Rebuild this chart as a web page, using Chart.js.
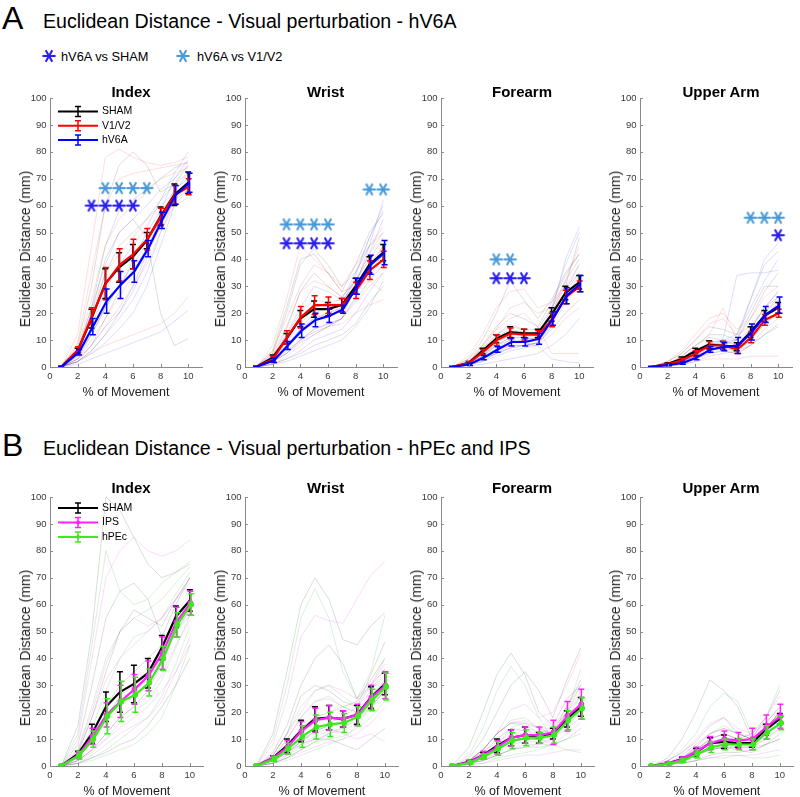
<!DOCTYPE html>
<html>
<head>
<meta charset="utf-8">
<title>Euclidean Distance - Visual perturbation</title>
<script src="https://cdn.jsdelivr.net/npm/chart.js@4.4.1/dist/chart.umd.min.js"></script>
<style>
  html, body { margin: 0; padding: 0; background: #fff; }
  #fig { position: relative; width: 800px; height: 797px; overflow: hidden; font-family: "Liberation Sans", Arial, sans-serif; }
  #fig canvas { position: absolute; }
  .lbl { position: absolute; white-space: nowrap; color: #000; }
</style>
</head>
<body>
<div id="fig"></div>
<script>
// bins of % of movement
const xs = [0.8, 2, 3, 4, 5, 6, 7, 8, 9, 10];
const groupsA = ['SHAM', 'V1/V2', 'hV6A'];
const groupsB = ['SHAM', 'IPS', 'hPEc'];

// ---------- A : hV6A (means / sem for SHAM, V1/V2, hV6A) ----------
const aIndexMean = [
  [0, 6, 18, 31, 37, 41, 47, 56, 64, 68.5],
  [0, 6.5, 19, 31, 38, 42, 47.5, 56, 64, 67],
  [0, 5.5, 15, 24.5, 30.5, 35.5, 44, 54.5, 64, 68.5]
];
const aIndexErr = [
  [0.3, 1, 3.5, 5.5, 5.5, 4.5, 3, 3.5, 4, 4],
  [0.3, 1, 3, 6, 6, 5.5, 4, 3, 3.5, 3],
  [0.3, 1, 3, 4.5, 5, 4, 3, 3, 3.5, 3.5]
];
const aIndexTraces = [
  [[0, 8, 30, 60, 75, 80, 75, 65, 68, 72], [0, 3, 12, 22, 30, 36, 44, 55, 66, 70], [0, 2, 6, 12, 20, 30, 42, 55, 62, 66], [0, 5, 18, 35, 45, 50, 55, 62, 68, 75], [0, 4, 20, 40, 50, 55, 48, 20, 8, 10.5], [0, 6, 22, 45, 58, 62, 66, 70, 74, 76], [0, 2, 8, 18, 28, 40, 50, 58, 64, 68]],
  [[0, 12, 45, 78, 81, 78, 76, 75, 76, 78], [0, 6, 20, 35, 42, 48, 55, 60, 65, 68], [0, 3, 10, 18, 26, 34, 42, 52, 62, 68], [0, 2, 5, 8, 10, 12, 14, 16, 20, 26], [0, 7, 25, 45, 55, 60, 65, 70, 72, 74], [0, 9, 35, 60, 70, 72, 73, 74, 75, 76], [0, 3, 8, 15, 22, 30, 38, 50, 60, 63]],
  [[0, 2, 6, 12, 18, 25, 35, 50, 62, 70], [0, 4, 12, 22, 30, 38, 46, 55, 65, 72], [0, 1, 3, 5, 7, 9, 11, 13, 17, 21], [0, 6, 22, 38, 50, 55, 60, 66, 70, 77], [0, 3, 8, 15, 20, 28, 40, 58, 70, 75], [0, 5, 15, 28, 38, 45, 52, 62, 72, 80], [0, 2, 5, 9, 14, 20, 30, 45, 60, 66]]
];
const aIndexSigShamX = [3, 4, 5, 6];
const aIndexSigShamY = [60, 60, 60, 60];
const aIndexSigV1X = [4, 5, 6, 7];
const aIndexSigV1Y = [66.5, 66.5, 66.5, 66.5];

const aWristMean = [
  [0, 3.5, 10.5, 18, 21.5, 21.5, 23, 30, 38, 42.5],
  [0, 3, 11, 18.5, 23, 23, 23, 28.5, 36, 40],
  [0, 2.5, 8, 13.5, 17.5, 19, 21.5, 30, 38, 42.5]
];
const aWristErr = [
  [0.3, 1, 2, 3, 3, 2.5, 2.5, 3, 3, 3],
  [0.3, 1, 2.5, 4, 3.5, 3, 2.5, 3, 3.5, 3],
  [0.3, 0.8, 1.5, 2.5, 2.5, 2.5, 1.5, 3, 3.5, 4.5]
];
const aWristTraces = [
  [[0, 5, 20, 38, 44, 38, 30, 35, 45, 50], [0, 3, 10, 18, 22, 24, 25, 30, 38, 45], [0, 2, 6, 10, 13, 15, 18, 25, 32, 38], [0, 4, 14, 28, 35, 30, 26, 32, 40, 48], [0, 1, 3, 5, 8, 10, 12, 16, 24, 30], [0, 6, 22, 40, 42, 35, 28, 38, 50, 57], [0, 2, 7, 14, 18, 20, 22, 28, 35, 42]],
  [[0, 8, 25, 45, 40, 35, 30, 38, 45, 52], [0, 4, 12, 20, 25, 24, 22, 28, 34, 40], [0, 2, 5, 10, 14, 16, 18, 24, 30, 35], [0, 6, 18, 30, 38, 35, 28, 30, 32, 28], [0, 1, 4, 8, 12, 15, 16, 20, 23, 25], [0, 5, 15, 28, 32, 30, 26, 32, 42, 50], [0, 3, 8, 14, 18, 20, 22, 28, 36, 44]],
  [[0, 2, 5, 9, 12, 15, 18, 30, 45, 62], [0, 3, 8, 14, 20, 22, 24, 32, 42, 55], [0, 1, 3, 6, 10, 12, 14, 20, 28, 35], [0, 4, 12, 22, 30, 28, 25, 35, 48, 58], [0, 1, 2, 4, 6, 8, 10, 15, 22, 32], [0, 3, 9, 16, 22, 24, 23, 34, 48, 60], [0, 2, 5, 10, 14, 16, 18, 26, 36, 45]]
];
const aWristSigShamX = [3, 4, 5, 6];
const aWristSigShamY = [46, 46, 46, 46];
const aWristSigV1X = [3, 4, 5, 6, 9, 10];
const aWristSigV1Y = [53, 53, 53, 53, 66, 66];

const aForearmMean = [
  [0, 1.5, 6, 10.5, 13, 12.5, 12.5, 19.5, 27.5, 31.5],
  [0, 1.5, 5.5, 10, 12.5, 12, 12, 17.5, 26, 30],
  [0, 1, 3.5, 6.5, 9.3, 9.3, 10.5, 18, 26.5, 31]
];
const aForearmErr = [
  [0.2, 0.5, 1, 1.5, 2, 1.5, 1.5, 2.5, 2.5, 2.5],
  [0.2, 0.5, 1, 2, 2, 2, 1.5, 2.5, 2.5, 2],
  [0.2, 0.4, 0.8, 1, 1.5, 1.5, 2, 2.5, 3, 3]
];
const aForearmTraces = [
  [[0, 3, 10, 20, 32, 25, 18, 25, 35, 42], [0, 2, 7, 12, 15, 14, 14, 22, 32, 40], [0, 1, 4, 8, 10, 10, 11, 18, 28, 35], [0, 1, 3, 5, 7, 8, 9, 14, 20, 25], [0, 2, 6, 11, 14, 13, 12, 20, 30, 48], [0, 2, 8, 15, 20, 18, 15, 24, 34, 42], [0, 1, 4, 9, 12, 12, 12, 18, 26, 30]],
  [[0, 4, 12, 22, 28, 29, 22, 24, 30, 35], [0, 2, 6, 12, 16, 14, 12, 18, 26, 30], [0, 1, 3, 6, 8, 8, 8, 12, 18, 22], [0, 3, 8, 14, 18, 20, 15, 5, 5, 5], [0, 1, 5, 9, 12, 12, 13, 20, 32, 45], [0, 2, 7, 14, 22, 24, 20, 22, 30, 38], [0, 1, 4, 8, 11, 11, 10, 15, 24, 32]],
  [[0, 1, 3, 5, 7, 8, 9, 20, 40, 52], [0, 1, 2, 4, 6, 7, 8, 15, 28, 38], [0, 2, 5, 8, 11, 11, 12, 18, 26, 32], [0, 0.5, 1, 2, 3, 4, 5, 8, 12, 18], [0, 1, 4, 7, 10, 9, 8, 3, 2, 1.5], [0, 1, 3, 6, 9, 10, 11, 22, 38, 50], [0, 1, 2, 5, 8, 8, 9, 16, 26, 34]]
];
const aForearmSigShamX = [4, 5, 6];
const aForearmSigShamY = [33, 33, 33];
const aForearmSigV1X = [4, 5];
const aForearmSigV1Y = [40, 40];

const aUpperMean = [
  [0, 1.2, 3, 6, 8.3, 8, 7.5, 13, 19, 22],
  [0, 1, 2.5, 5, 8, 8, 6.5, 11, 17.5, 20],
  [0, 0.8, 1.5, 3.5, 6.5, 7.5, 8, 13, 19.5, 23]
];
const aUpperErr = [
  [0.2, 0.4, 0.7, 1, 1.5, 1.5, 1.5, 2, 2, 2],
  [0.2, 0.4, 0.7, 1, 1.5, 1.5, 1.5, 2, 2, 1.5],
  [0.2, 0.3, 0.5, 0.8, 1, 1.5, 3, 3, 3, 3]
];
const aUpperTraces = [
  [[0, 2, 5, 10, 15, 14, 12, 25, 38, 43], [0, 1, 3, 6, 9, 8, 8, 14, 22, 28], [0, 1, 2, 4, 6, 7, 6, 10, 16, 20], [0, 0.5, 1, 3, 5, 6, 5, 8, 12, 15], [0, 1, 4, 8, 11, 10, 10, 20, 30, 30], [0, 1, 4, 8, 12, 12, 10, 18, 28, 35], [0, 1, 2, 5, 8, 8, 7, 12, 18, 24]],
  [[0, 2, 6, 12, 18, 20, 14, 18, 26, 30], [0, 1, 3, 6, 9, 10, 8, 12, 18, 22], [0, 1, 2, 3, 5, 6, 5, 8, 14, 18], [0, 0.5, 1, 2, 3, 3, 3, 4, 4, 4], [0, 1, 3, 7, 12, 22, 10, 12, 20, 25], [0, 2, 5, 10, 16, 18, 12, 15, 22, 28], [0, 1, 2, 4, 6, 7, 6, 10, 16, 20]],
  [[0, 1, 2, 4, 7, 10, 34, 35, 35, 36], [0, 0.5, 1, 3, 6, 8, 10, 25, 40, 46], [0, 1, 2, 4, 8, 9, 10, 14, 22, 26], [0, 0.5, 1, 2, 4, 5, 6, 8, 12, 16], [0, 1, 2, 5, 9, 10, 8, 12, 18, 20], [0, 1, 2, 5, 8, 10, 12, 22, 32, 40], [0, 1, 2, 4, 6, 8, 8, 12, 20, 26]]
];
const aUpperSigShamX = [10];
const aUpperSigShamY = [49];
const aUpperSigV1X = [8, 9, 10];
const aUpperSigV1Y = [55.5, 55.5, 55.5];

// ---------- B : hPEc and IPS (means / sem for SHAM, IPS, hPEc) ----------
const bIndexMean = [
  [0, 4.5, 12, 22, 27.5, 30.5, 34.5, 44, 55.5, 61.5],
  [0, 4, 11, 19, 24, 28.5, 33.5, 42, 53.5, 60.5],
  [0, 4, 10, 18.5, 24, 26.5, 31, 40, 52.5, 60]
];
const bIndexErr = [
  [0.3, 1, 3.5, 5.5, 7.5, 7, 5.5, 4.5, 4, 4],
  [0.3, 1, 3, 4.5, 6, 5.5, 5.5, 6, 5.5, 4.5],
  [0.3, 1.5, 3, 6.5, 7.5, 6.5, 5, 4.5, 4.5, 4]
];
const bIndexTraces = [
  [[0, 15, 50, 100, 95, 85, 75, 70, 72, 75], [0, 8, 30, 55, 65, 68, 62, 48, 60, 70], [0, 4, 12, 22, 30, 35, 40, 45, 55, 62], [0, 2, 6, 12, 18, 22, 28, 38, 50, 58], [0, 1, 3, 5, 8, 10, 15, 22, 30, 40], [0, 5, 18, 35, 50, 58, 55, 52, 62, 70], [0, 3, 9, 18, 26, 30, 34, 40, 50, 56]],
  [[0, 10, 40, 70, 80, 85, 80, 78, 80, 84], [0, 5, 18, 32, 40, 45, 50, 55, 62, 70], [0, 3, 10, 18, 24, 28, 32, 40, 50, 58], [0, 1, 4, 8, 12, 15, 18, 24, 35, 48], [0, 2, 6, 10, 14, 18, 22, 28, 35, 45], [0, 6, 20, 38, 50, 55, 52, 55, 62, 68], [0, 2, 6, 12, 18, 22, 26, 34, 45, 54]],
  [[0, 12, 45, 80, 65, 60, 62, 68, 72, 76], [0, 6, 22, 40, 50, 55, 58, 62, 68, 74], [0, 3, 9, 16, 22, 26, 30, 40, 52, 60], [0, 1, 3, 6, 10, 14, 18, 26, 38, 52], [0, 1, 2, 4, 6, 8, 12, 18, 30, 45], [0, 4, 14, 28, 40, 48, 50, 55, 64, 72], [0, 2, 5, 10, 16, 20, 24, 32, 44, 56]]
];

const bWristMean = [
  [0, 3, 7.5, 13, 17.5, 18, 17.5, 19, 25.5, 30.5],
  [0, 3, 7, 13, 17, 18, 17.5, 19, 25.5, 30],
  [0, 2.5, 6.5, 11, 14.5, 15.5, 16, 18.5, 24.5, 29.5]
];
const bWristErr = [
  [0.2, 0.8, 2.5, 4, 4.5, 4.5, 3, 3.5, 4, 4],
  [0.2, 0.8, 2.5, 3.5, 4.5, 4.5, 3, 4, 4.5, 5],
  [0.2, 0.8, 2, 4, 4.5, 4.5, 3.5, 3.5, 4, 5]
];
const bWristTraces = [
  [[0, 12, 35, 60, 70, 62, 47, 45, 52, 57], [0, 5, 15, 30, 40, 45, 38, 25, 32, 40], [0, 3, 8, 14, 18, 20, 22, 24, 30, 36], [0, 1, 3, 6, 9, 12, 14, 18, 22, 28], [0, 2, 5, 8, 10, 10, 8, 6, 10, 14], [0, 4, 12, 26, 30, 28, 24, 22, 34, 46], [0, 2, 5, 9, 13, 15, 16, 18, 24, 30]],
  [[0, 8, 25, 48, 56, 54, 53, 62, 71, 76], [0, 4, 12, 20, 28, 30, 28, 25, 30, 38], [0, 2, 6, 10, 14, 16, 18, 22, 28, 34], [0, 1, 3, 5, 7, 9, 10, 12, 16, 22], [0, 2, 5, 9, 12, 14, 12, 10, 12, 9], [0, 3, 10, 18, 24, 26, 22, 20, 28, 36], [0, 1, 4, 7, 10, 12, 13, 16, 22, 28]],
  [[0, 10, 30, 55, 66, 55, 35, 25, 35, 56], [0, 3, 10, 18, 24, 25, 22, 20, 26, 32], [0, 2, 5, 9, 13, 15, 17, 20, 25, 30], [0, 1, 2, 4, 6, 8, 10, 15, 22, 28], [0, 1, 3, 6, 9, 10, 11, 14, 18, 24], [0, 4, 12, 22, 28, 30, 26, 22, 30, 40], [0, 2, 4, 8, 11, 13, 14, 17, 22, 26]]
];

const bForearmMean = [
  [0, 1.5, 4, 7.5, 10.5, 11.5, 10.5, 12, 17.5, 22],
  [0, 1.5, 4, 7, 10.5, 11.5, 11.5, 12.5, 18.5, 23],
  [0, 1.2, 3.5, 6.5, 9.5, 10.5, 10.5, 11.5, 17, 21.5]
];
const bForearmErr = [
  [0.2, 0.5, 1, 2.5, 3, 3, 2, 2, 3, 3.5],
  [0.2, 0.5, 1.5, 2.5, 3, 3, 3, 4.5, 5.5, 5.5],
  [0.2, 0.4, 1, 2.5, 3, 3, 2, 3, 3.5, 4]
];
const bForearmTraces = [
  [[0, 7, 20, 34, 42, 34, 20, 15, 25, 30], [0, 3, 10, 20, 30, 35, 28, 18, 32, 44], [0, 2, 5, 10, 14, 13, 12, 14, 20, 26], [0, 1, 3, 6, 9, 10, 10, 12, 18, 24], [0, 1, 2, 4, 6, 7, 7, 8, 10, 14], [0, 2, 6, 12, 16, 16, 14, 12, 22, 32], [0, 1, 3, 6, 9, 10, 10, 11, 16, 20]],
  [[0, 2, 6, 12, 21, 23, 18, 20, 30, 42], [0, 1, 4, 8, 14, 16, 12, 12, 20, 28], [0, 2, 5, 9, 12, 12, 10, 8, 12, 16], [0, 1, 2, 4, 6, 7, 8, 10, 14, 18], [0, 0.5, 1, 2, 3, 4, 4, 5, 6, 6], [0, 2, 6, 12, 16, 17, 14, 14, 22, 30], [0, 1, 3, 6, 9, 10, 10, 12, 18, 22]],
  [[0, 4, 14, 28, 37, 30, 18, 10, 20, 36], [0, 2, 6, 12, 16, 15, 12, 10, 16, 22], [0, 1, 3, 6, 9, 10, 10, 12, 18, 26], [0, 0.5, 1, 3, 4, 5, 6, 8, 10, 12], [0, 1, 2, 4, 6, 8, 8, 8, 6, 5], [0, 2, 6, 12, 17, 18, 14, 12, 20, 30], [0, 1, 2, 5, 8, 9, 9, 10, 15, 20]]
];

const bUpperMean = [
  [0, 1, 2.5, 5, 8.5, 9, 8.5, 8.5, 13.5, 17.5],
  [0, 1, 2.5, 5.5, 8.5, 10, 9.5, 10, 14.5, 18.5],
  [0, 0.8, 2, 4.5, 7, 8, 8, 8, 12.5, 16]
];
const bUpperErr = [
  [0.2, 0.3, 0.8, 1.5, 2, 2.5, 1.5, 1.5, 2, 2],
  [0.2, 0.3, 0.8, 1.5, 2.5, 3, 3, 4, 4.5, 4.5],
  [0.2, 0.3, 0.7, 1.5, 2, 2, 2, 2, 2.5, 2.5]
];
const bUpperTraces = [
  [[0, 3, 10, 20, 32, 28, 22, 10, 18, 28], [0, 2, 5, 9, 15, 18, 12, 10, 14, 20], [0, 1, 3, 6, 10, 12, 10, 12, 16, 22], [0, 0.5, 1, 2, 4, 5, 5, 6, 8, 10], [0, 1, 2, 4, 6, 7, 6, 5, 8, 12], [0, 1, 4, 8, 12, 14, 12, 10, 14, 20], [0, 1, 2, 4, 7, 8, 8, 8, 12, 15]],
  [[0, 2, 5, 10, 16, 18, 14, 12, 18, 26], [0, 1, 3, 6, 10, 12, 10, 10, 14, 20], [0, 1, 2, 4, 7, 8, 8, 9, 12, 16], [0, 0.5, 1, 2, 3, 4, 4, 4, 5, 6], [0, 1, 3, 5, 8, 9, 9, 10, 13, 18], [0, 1, 3, 7, 12, 14, 12, 11, 16, 22], [0, 1, 2, 4, 6, 7, 7, 7, 10, 14]],
  [[0, 2, 6, 12, 22, 27, 24, 12, 18, 30], [0, 1, 3, 6, 10, 12, 10, 8, 12, 18], [0, 1, 2, 4, 6, 7, 7, 7, 8, 10], [0, 0.5, 1, 2, 3, 3, 4, 3, 3, 4], [0, 1, 3, 6, 9, 10, 9, 8, 12, 16], [0, 1, 3, 7, 12, 15, 12, 10, 14, 20], [0, 1, 2, 4, 6, 7, 7, 7, 10, 14]]
];

// ---------- look ----------
const FONT = '"Liberation Sans", Arial, sans-serif';
const axisColor = '#8a8a8a';
const tickColor = '#3a3a3a';
const colorsA = ['#000000', '#ff0000', '#0000ff'];
const faintA = ['rgba(0,0,0,0.17)', 'rgba(255,0,0,0.17)', 'rgba(0,0,255,0.17)'];
const colorsB = ['#000000', '#ff22ff', '#3de81e'];
const faintB = ['rgba(0,0,0,0.18)', 'rgba(225,0,225,0.18)', 'rgba(0,170,0,0.2)'];
const starDark = '#2a1ef0';
const starLight = '#4a9ad8';
const xOffsets = [0, 0.04, 0.1];

const colsLeft = [50, 244.7, 441, 640];
const rowsTop = [98, 497];
const plotW = 158, plotH = 269;
const padTop = 12, axisW = 50, axisH = 40, padRight = 2;

const fig = document.getElementById('fig');

function makeStar(color) {
  const c = document.createElement('canvas');
  c.width = 16; c.height = 16;
  const g = c.getContext('2d');
  g.strokeStyle = color;
  g.lineWidth = 2.1;
  g.translate(8, 8);
  [0, 60, 120].forEach(a => {
    const r = a * Math.PI / 180, dx = Math.cos(r) * 6.6, dy = Math.sin(r) * 6.6;
    g.beginPath(); g.moveTo(-dx, -dy); g.lineTo(dx, dy); g.stroke();
  });
  return c;
}
const starDarkImg = makeStar(starDark);
const starLightImg = makeStar(starLight);

// error bars drawn right after each mean line
const errorBars = {
  id: 'errorBars',
  afterDatasetDraw(chart, args) {
    const ds = chart.data.datasets[args.index];
    if (!ds.errors) return;
    const {ctx, scales: {x, y}, chartArea: a} = chart;
    ctx.save();
    ctx.beginPath(); ctx.rect(a.left, a.top, a.width, a.height); ctx.clip();
    ctx.strokeStyle = ds.borderColor;
    ctx.lineWidth = 1.5;
    ds.data.forEach((p, i) => {
      const e = ds.errors[i];
      if (!e) return;
      const px = x.getPixelForValue(p.x);
      const y1 = y.getPixelForValue(p.y - e), y2 = y.getPixelForValue(p.y + e);
      ctx.beginPath();
      ctx.moveTo(px, y1); ctx.lineTo(px, y2);
      ctx.moveTo(px - 3, y1); ctx.lineTo(px + 3, y1);
      ctx.moveTo(px - 3, y2); ctx.lineTo(px + 3, y2);
      ctx.stroke();
    });
    ctx.restore();
  }
};

// MATLAB-ish inward tick marks
const inTicks = {
  id: 'inTicks',
  afterDraw(chart) {
    const {ctx, chartArea: a, scales: {x, y}} = chart;
    ctx.save();
    ctx.strokeStyle = axisColor;
    ctx.lineWidth = 1;
    ctx.beginPath();
    x.ticks.forEach(t => {
      const px = Math.round(x.getPixelForValue(t.value)) + 0.5;
      ctx.moveTo(px, a.bottom); ctx.lineTo(px, a.bottom - 3);
    });
    y.ticks.forEach(t => {
      const py = Math.round(y.getPixelForValue(t.value)) + 0.5;
      ctx.moveTo(a.left, py); ctx.lineTo(a.left + 3, py);
    });
    ctx.stroke();
    ctx.restore();
  }
};

// legend with error-bar icons
const errLegend = {
  id: 'errLegend',
  afterDraw(chart, args, opts) {
    if (!opts.items) return;
    const {ctx, chartArea: a} = chart;
    ctx.save();
    ctx.font = '10.5px ' + FONT;
    ctx.textBaseline = 'middle';
    opts.items.forEach((it, i) => {
      const y = a.top + opts.top + i * opts.gap;
      const x0 = a.left + 8, x1 = a.left + 48, xm = a.left + 28;
      ctx.strokeStyle = it.color;
      ctx.lineWidth = 2;
      ctx.beginPath(); ctx.moveTo(x0, y); ctx.lineTo(x1, y); ctx.stroke();
      ctx.lineWidth = 1.5;
      ctx.beginPath();
      ctx.moveTo(xm, y - 5); ctx.lineTo(xm, y + 5);
      ctx.moveTo(xm - 3, y - 5); ctx.lineTo(xm + 3, y - 5);
      ctx.moveTo(xm - 3, y + 5); ctx.lineTo(xm + 3, y + 5);
      ctx.stroke();
      if (it.marker) {
        ctx.fillStyle = it.color;
        ctx.beginPath(); ctx.arc(xm, y, 2, 0, 2 * Math.PI); ctx.fill();
      }
      ctx.fillStyle = '#000';
      ctx.fillText(it.label, a.left + 52, y);
    });
    ctx.restore();
  }
};

Chart.register(errorBars, inTicks, errLegend);

function addText(txt, x, baseline, size, opts) {
  opts = opts || {};
  const d = document.createElement('div');
  d.className = 'lbl';
  d.textContent = txt;
  d.style.fontSize = size + 'px';
  d.style.lineHeight = size + 'px';
  d.style.top = (baseline - 0.8465 * size) + 'px';
  d.style.left = x + 'px';
  if (opts.bold) d.style.fontWeight = 'bold';
  if (opts.center) d.style.transform = 'translateX(-50%)';
  if (opts.rotate) {
    d.style.top = baseline + 'px';
    d.style.transform = 'translate(-50%, -50%) rotate(-90deg)';
  }
  fig.appendChild(d);
  return d;
}

function addStarIcon(img, cx, cy) {
  const c = document.createElement('canvas');
  c.width = 16; c.height = 16;
  c.getContext('2d').drawImage(img, 0, 0);
  c.style.left = (cx - 8) + 'px';
  c.style.top = (cy - 8) + 'px';
  fig.appendChild(c);
}

function makePanel(p, left, top, row) {
  const canvas = document.createElement('canvas');
  canvas.width = axisW + plotW + padRight;
  canvas.height = padTop + plotH + axisH;
  canvas.style.left = (left - axisW) + 'px';
  canvas.style.top = (top - padTop) + 'px';
  fig.appendChild(canvas);

  const datasets = [];
  p.traces.forEach((grp, g) => grp.forEach(tr => datasets.push({
    data: tr.map((v, i) => ({x: xs[i], y: v})),
    borderColor: row.faint[g], borderWidth: 0.8, pointRadius: 0, order: 10
  })));
  p.mean.forEach((m, g) => datasets.push({
    label: row.groups[g],
    data: m.map((v, i) => ({x: i === 0 ? xs[i] : xs[i] + xOffsets[g], y: v})),
    errors: p.err[g],
    borderColor: row.colors[g], backgroundColor: row.colors[g],
    borderWidth: 2.2, pointRadius: row.markers && g > 0 ? 1.8 : 0,
    order: 5 - g
  }));
  if (p.sig) {
    [[p.sig[0], starDarkImg], [p.sig[1], starLightImg]].forEach(([s, img]) => datasets.push({
      data: s[0].map((v, i) => ({x: v, y: s[1][i]})),
      showLine: false, pointStyle: img, pointRadius: 7, order: 0
    }));
  }

  new Chart(canvas, {
    type: 'line',
    data: {datasets},
    options: {
      responsive: false, animation: false, events: [],
      layout: {padding: {top: padTop, right: padRight, left: 0, bottom: 0}},
      plugins: {
        legend: {display: false}, tooltip: {enabled: false},
        errLegend: p.legend ? {
          items: row.groups.map((g, i) => ({label: g, color: row.colors[i], marker: row.markers && i > 0})),
          top: row.legendTop, gap: row.legendGap
        } : {}
      },
      scales: {
        x: {
          type: 'linear', min: 0, max: 11,
          grid: {display: false, drawTicks: false},
          border: {display: true, color: axisColor, width: 1},
          ticks: {stepSize: 2, includeBounds: false, padding: 4, maxRotation: 0, color: tickColor, font: {size: 9.5, family: FONT}},
          title: {display: true, text: '% of Movement', color: '#222', font: {size: 12.5, family: FONT}, padding: {top: 0, bottom: 6.5}},
          afterFit: s => { s.height = axisH; }
        },
        y: {
          type: 'linear', min: 0, max: 100,
          grid: {display: false, drawTicks: false},
          border: {display: true, color: axisColor, width: 1},
          ticks: {stepSize: 10, padding: 3.5, color: tickColor, font: {size: 9.5, family: FONT}},
          afterFit: s => { s.width = axisW; }
        }
      }
    }
  });

  addText(p.title, left + plotW / 2 + 2, row.titleBase, 15, {bold: true, center: true});
  addText('Euclidean Distance (mm)', left - 25, top + 151, 14, {rotate: true}).style.color = '#222';
}

const rowA = {
  groups: groupsA, colors: colorsA, faint: faintA, markers: false,
  legendTop: 13.5, legendGap: 14.3, titleBase: 96.7
};
const rowB = {
  groups: groupsB, colors: colorsB, faint: faintB, markers: true,
  legendTop: 11, legendGap: 14.5, titleBase: 492.5
};

const panelsA = [
  {title: 'Index', mean: aIndexMean, err: aIndexErr, traces: aIndexTraces, sig: [[aIndexSigShamX, aIndexSigShamY], [aIndexSigV1X, aIndexSigV1Y]], legend: true},
  {title: 'Wrist', mean: aWristMean, err: aWristErr, traces: aWristTraces, sig: [[aWristSigShamX, aWristSigShamY], [aWristSigV1X, aWristSigV1Y]]},
  {title: 'Forearm', mean: aForearmMean, err: aForearmErr, traces: aForearmTraces, sig: [[aForearmSigShamX, aForearmSigShamY], [aForearmSigV1X, aForearmSigV1Y]]},
  {title: 'Upper Arm', mean: aUpperMean, err: aUpperErr, traces: aUpperTraces, sig: [[aUpperSigShamX, aUpperSigShamY], [aUpperSigV1X, aUpperSigV1Y]]}
];
const panelsB = [
  {title: 'Index', mean: bIndexMean, err: bIndexErr, traces: bIndexTraces, legend: true},
  {title: 'Wrist', mean: bWristMean, err: bWristErr, traces: bWristTraces},
  {title: 'Forearm', mean: bForearmMean, err: bForearmErr, traces: bForearmTraces},
  {title: 'Upper Arm', mean: bUpperMean, err: bUpperErr, traces: bUpperTraces}
];

// figure headings
addText('A', 2, 29.3, 32);
addText('Euclidean Distance - Visual perturbation - hV6A', 43, 28.3, 19.6);
addStarIcon(starDarkImg, 48.5, 56);
addText('hV6A vs SHAM', 61, 61.5, 12.8);
addStarIcon(starLightImg, 182.5, 56);
addText('hV6A vs V1/V2', 197, 61.5, 12.8);
addText('B', 2, 456.5, 32);
addText('Euclidean Distance - Visual perturbation - hPEc and IPS', 43, 455.5, 19.6);

panelsA.forEach((p, i) => makePanel(p, colsLeft[i], rowsTop[0], rowA));
panelsB.forEach((p, i) => makePanel(p, colsLeft[i], rowsTop[1], rowB));
</script>
</body>
</html>
